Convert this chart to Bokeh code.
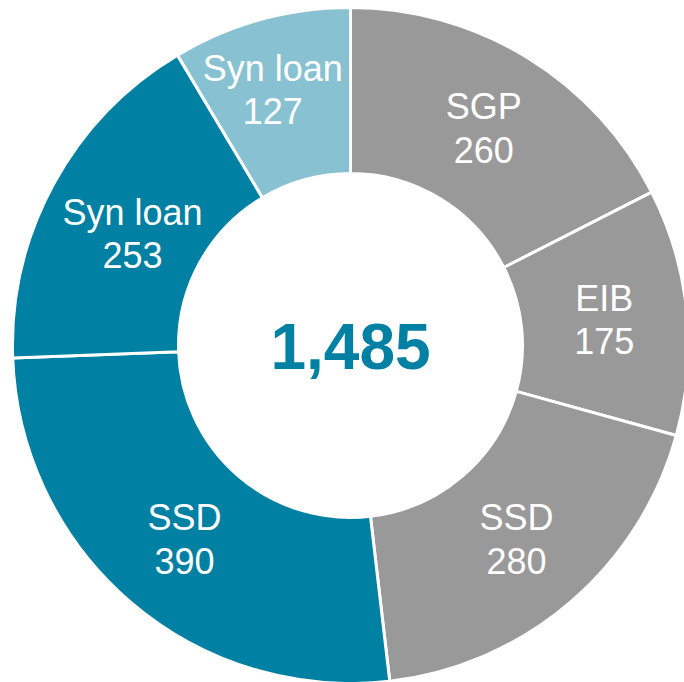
import math
from bokeh.plotting import figure
from bokeh.models import Range1d, ColumnDataSource
from bokeh.core.properties import value
from bokeh.embed import file_html
from bokeh.resources import INLINE

# ---- data (clockwise from 12 o'clock) ----
categories = ["SGP", "EIB", "SSD", "SSD", "Syn loan", "Syn loan"]
values = [260, 175, 280, 390, 253, 127]
colors = ["#999999", "#999999", "#999999", "#0080A3", "#0080A3", "#88C2D2"]
total_label = "1,485"

# ---- layout (1 data unit = 1 px) ----
W, H = 684, 682
cx_px, cy_px = 350, 345          # centre on the page
R_OUT, R_IN = 338, 172
FS = 36
LINE_H = 43
# small label nudges (px) so labels fit inside their slices, as in the original
nudge_x = [0, 0, 0, 0, 6, -10]
nudge_y = [0, 0, 0, 0, -10, 10]

total = sum(values)
starts, ends, lx, ly = [], [], [], []
acc = 0.0
for i, v in enumerate(values):
    t0 = 2 * math.pi * acc / total
    t1 = 2 * math.pi * (acc + v) / total
    starts.append(math.pi / 2 - t1)
    ends.append(math.pi / 2 - t0)
    tm = (t0 + t1) / 2
    rm = (R_IN + R_OUT) / 2
    lx.append(rm * math.sin(tm) + nudge_x[i])
    ly.append(rm * math.cos(tm) + nudge_y[i])
    acc += v

src = ColumnDataSource(dict(
    x=[0] * len(values), y=[0] * len(values),
    start=starts, end=ends, color=colors,
    lx=lx, ly=ly, cat=categories, val=[str(v) for v in values],
))

p = figure(width=W, height=H, output_backend="svg", toolbar_location=None,
           x_range=Range1d(-cx_px, W - cx_px),
           y_range=Range1d(cy_px - H, cy_px),
           min_border=0, outline_line_color=None)
p.axis.visible = False
p.grid.visible = False
p.background_fill_color = "white"
p.border_fill_color = "white"

p.annular_wedge(x="x", y="y", inner_radius=R_IN, outer_radius=R_OUT,
                start_angle="start", end_angle="end", source=src,
                fill_color="color", line_color="white", line_width=3)

p.text(x="lx", y="ly", text="cat", source=src, text_color="white",
       text_font=value("Liberation Sans"), text_font_size=f"{FS}px",
       text_align="center", text_baseline="middle",
       y_offset=-LINE_H / 2)
p.text(x="lx", y="ly", text="val", source=src, text_color="white",
       text_font=value("Liberation Sans"), text_font_size=f"{FS}px",
       text_align="center", text_baseline="middle",
       y_offset=LINE_H / 2)

p.text(x=[0], y=[0], text=[total_label], text_color="#0080A3",
       text_font=value("Liberation Sans"), text_font_style="bold",
       text_font_size="64px", text_align="center",
       text_baseline="middle", y_offset=1)

open("out.html", "w").write(file_html(p, INLINE))
